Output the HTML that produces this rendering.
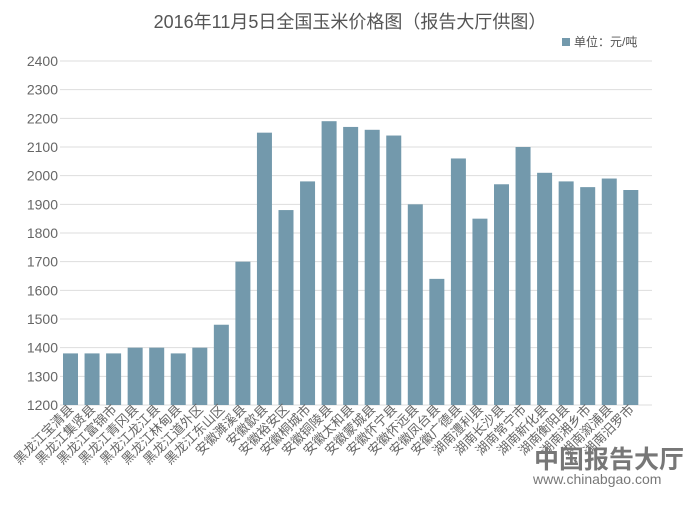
<!DOCTYPE html><html><head><meta charset="utf-8"><style>body{margin:0;background:#fff}</style></head><body>
<svg width="700" height="500" xmlns="http://www.w3.org/2000/svg" font-family="Liberation Sans, Noto Sans CJK SC, sans-serif">
<text x="350" y="28" text-anchor="middle" font-size="18" fill="#555">2016年11月5日全国玉米价格图（报告大厅供图）</text>
<rect x="562" y="38" width="8" height="8" fill="#7399ac"/>
<text x="574" y="46" font-size="12" fill="#555">单位：元/吨</text>
<g id="g"></g>
<text x="534" y="468" font-size="25" font-weight="bold" fill="#777">中国报告大厅</text>
<text x="533" y="484" font-size="14" fill="#777">www.chinabgao.com</text>
</svg>
<script>
var v=[1380,1380,1380,1400,1400,1380,1400,1480,1700,2150,1880,1980,2190,2170,2160,2140,1900,1640,2060,1850,1970,2100,2010,1980,1960,1990,1950];
var n=["黑龙江宝清县","黑龙江集贤县","黑龙江富锦市","黑龙江青冈县","黑龙江龙江县","黑龙江林甸县","黑龙江道外区","黑龙江东山区","安徽濉溪县","安徽歙县","安徽裕安区","安徽桐城市","安徽铜陵县","安徽太和县","安徽蒙城县","安徽怀宁县","安徽怀远县","安徽凤台县","安徽广德县","湖南澧利县","湖南长沙县","湖南常宁市","湖南新化县","湖南衡阳县","湖南湘乡市","湖南溆浦县","湖南汨罗市"];
var s="",L=60,R=640,T=61,B=405;function y(x){return B-(x-1200)/1200*(B-T)}
for(var k=1200;k<=2400;k+=100){var yy=y(k);s+='<line x1="'+L+'" x2="'+(R+12)+'" y1="'+yy+'" y2="'+yy+'" stroke="#ddd"/><text x="58" y="'+(yy+5)+'" text-anchor="end" font-size="14" fill="#666">'+k+'</text>';}
var w=21.55;for(var i=0;i<27;i++){var cx=70.5+i*w;s+='<rect x="'+(cx-7.5)+'" y="'+y(v[i])+'" width="15" height="'+(B-y(v[i]))+'" fill="#7399ac"/><text transform="translate('+(cx+4)+',410) rotate(-45)" text-anchor="end" font-size="13" fill="#666">'+n[i]+'</text>';}
document.getElementById("g").innerHTML=s;
</script></body></html>
